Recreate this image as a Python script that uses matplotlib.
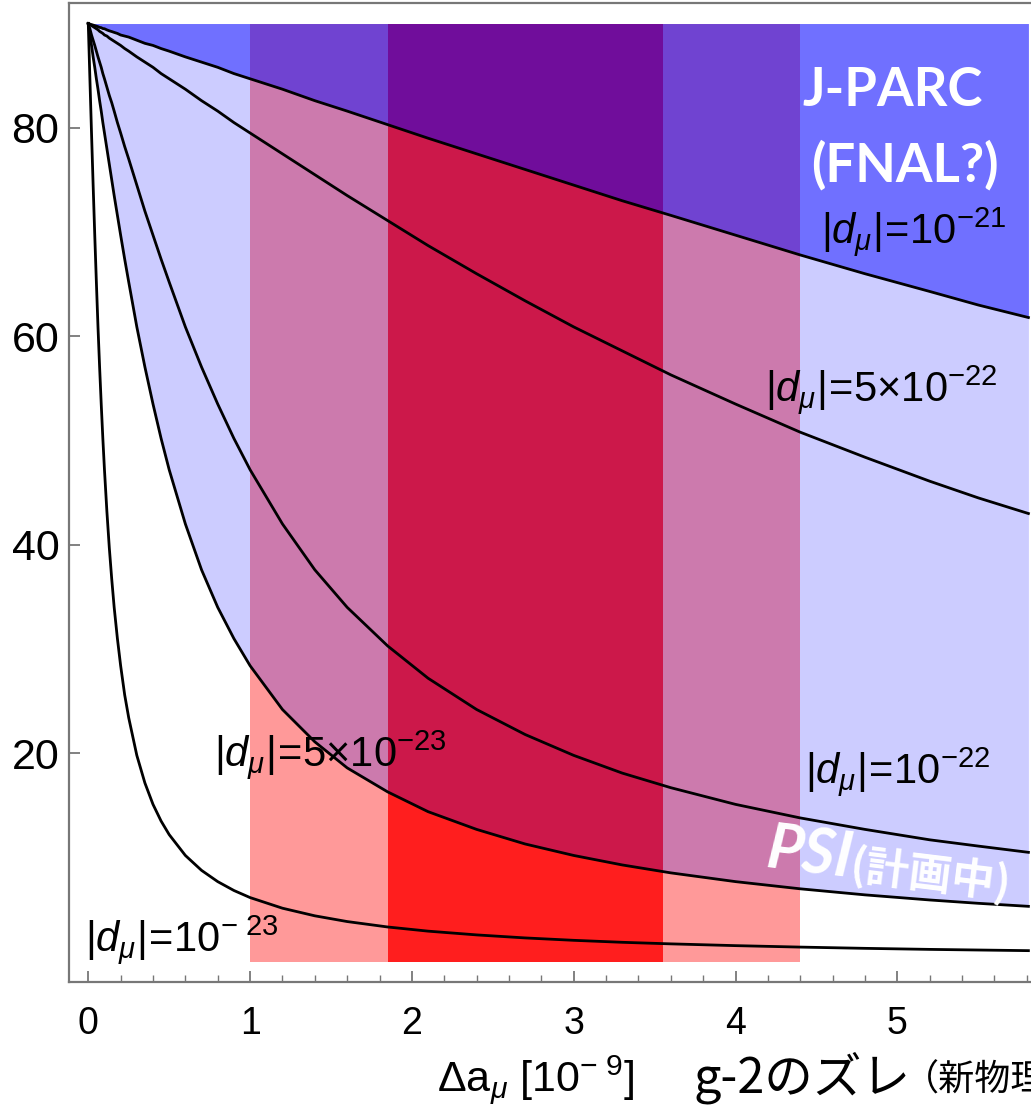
import numpy as np
import matplotlib
matplotlib.use('Agg')
import matplotlib.pyplot as plt
from matplotlib.ticker import MultipleLocator

plt.rcParams['font.family'] = ['Liberation Sans', 'Noto Sans CJK JP']
plt.rcParams['mathtext.fontset'] = 'custom'
plt.rcParams['mathtext.rm'] = 'Liberation Sans'
plt.rcParams['mathtext.it'] = 'Liberation Sans:italic'
plt.rcParams['mathtext.bf'] = 'Liberation Sans:bold'

# Δa_mu [1e-9] の値
da = [0, 0.005, 0.01, 0.015, 0.02, 0.03, 0.04, 0.05, 0.06, 0.07, 0.08, 0.09, 0.1, 0.115,
      0.13, 0.145, 0.16, 0.18, 0.2, 0.225, 0.25, 0.3, 0.35, 0.4, 0.45, 0.5, 0.6, 0.7, 0.8,
      0.9, 1.0, 1.2, 1.4, 1.6, 1.85, 2.1, 2.4, 2.7, 3.0, 3.3, 3.6, 4.0, 4.4, 4.8, 5.2, 5.5, 5.81]

# 各 |d_mu| の角度 [deg]
ang_1e21 = [90, 89.97, 89.95, 89.92, 89.9, 89.85, 89.8, 89.75, 89.7, 89.63, 89.6, 89.52, 89.5, 89.39,
            89.3, 89.23, 89.15, 89.05, 88.9, 88.8, 88.7, 88.4, 88.1, 87.9, 87.6, 87.35, 86.8, 86.3, 85.8,
            85.2, 84.7, 83.7, 82.6, 81.6, 80.3, 79.0, 77.5, 76.0, 74.5, 73.0, 71.6, 69.7, 67.8, 66.0,
            64.3, 63.0, 61.8]
ang_5e22 = [90, 89.95, 89.9, 89.85, 89.8, 89.7, 89.6, 89.5, 89.4, 89.25, 89.15, 89.05, 88.9, 88.8,
            88.6, 88.45, 88.3, 88.1, 87.9, 87.6, 87.35, 86.8, 86.3, 85.8, 85.2, 84.7, 83.7, 82.6, 81.6,
            80.5, 79.5, 77.5, 75.5, 73.5, 71.1, 68.7, 66.0, 63.4, 60.9, 58.6, 56.3, 53.5, 50.8, 48.4,
            46.1, 44.5, 43.0]
ang_1e22 = [90, 89.7, 89.5, 89.2, 88.9, 88.4, 87.9, 87.35, 86.8, 86.3, 85.8, 85.2, 84.7, 83.9,
            83.1, 82.4, 81.6, 80.5, 79.5, 78.2, 77.0, 74.5, 72.0, 69.7, 67.4, 65.2, 60.9, 57.05, 53.5,
            50.2, 47.2, 42.0, 37.6, 34.0, 30.3, 27.2, 24.2, 21.8, 19.8, 18.1, 16.7, 15.1, 13.8, 12.7,
            11.7, 11.1, 10.5]
ang_5e23 = [90, 89.5, 88.9, 88.4, 87.9, 86.8, 85.8, 84.7, 83.7, 82.6, 81.6, 80.5, 79.5, 78.0,
            76.5, 75.0, 73.5, 71.6, 69.7, 67.4, 65.2, 60.9, 57.05, 53.5, 50.2, 47.2, 42.0, 37.6, 34.0,
            31.0, 28.4, 24.2, 21.1, 18.6, 16.3, 14.4, 12.7, 11.3, 10.2, 9.29, 8.53, 7.69, 7.0, 6.42,
            5.93, 5.61, 5.32]
ang_1e23 = [90, 87.35, 84.7, 82.1, 79.5, 74.5, 69.7, 65.2, 60.9, 57.05, 53.5, 50.2, 47.2, 43.2,
            39.7, 36.7, 34.0, 31.0, 28.4, 25.6, 23.4, 19.8, 17.15, 15.1, 13.5, 12.2, 10.2, 8.77, 7.69,
            6.84, 6.16, 5.14, 4.41, 3.86, 3.34, 2.94, 2.58, 2.29, 2.06, 1.87, 1.72, 1.55, 1.41, 1.29,
            1.19, 1.13, 1.07]

# g-2 のズレ (1σ, 2σ)
band_2s = [1.0, 4.4]
band_1s = [1.85, 3.55]

fig = plt.figure(figsize=(10.31, 11.08), dpi=100)
ax = fig.add_axes([0.0669, 0.1137, 0.9331, 0.8836])

# 赤いバンド
ax.fill_between(band_2s, 0, 90, color='red', alpha=0.4, lw=0)
ax.fill_between(band_1s, 0, 90, color='red', alpha=0.8, lw=0)
# 青い領域
ax.fill_between(da, ang_5e23, 90, color='blue', alpha=0.2, lw=0)
ax.fill_between(da, ang_1e21, 90, color='blue', alpha=0.45, lw=0)

for ang in [ang_1e21, ang_5e22, ang_1e22, ang_5e23, ang_1e23]:
    ax.plot(da, ang, color='black', lw=2.0, zorder=5, solid_joinstyle='round')

ax.set_xlim(-0.1193, 5.826)
ax.set_ylim(-1.94, 91.97)

ax.xaxis.set_major_locator(MultipleLocator(1))
ax.xaxis.set_minor_locator(MultipleLocator(0.2))
ax.set_yticks([20, 40, 60, 80])
ax.tick_params(axis='x', which='major', direction='in', length=8, width=1.3,
               color='#777777', labelsize=27, pad=17)
ax.tick_params(axis='x', which='minor', direction='in', length=5, width=1.0, color='#777777')
ax.tick_params(axis='y', which='major', direction='in', length=8, width=1.3,
               color='#777777', labelsize=31, pad=7)
for s in ['left', 'bottom', 'top']:
    ax.spines[s].set_color('#777777')
    ax.spines[s].set_linewidth(1.6)
ax.spines['right'].set_visible(False)

# ラベル
lab = dict(fontsize=30, ha='center', va='center', color='black', zorder=6)
ax.text(5.10, 70.0, r'$|d_{\mu}|\!=\!10^{-21}$', **lab)
ax.text(4.90, 54.8, r'$|d_{\mu}|\!=\!5{\times}10^{-22}$', **lab)
ax.text(5.00, 18.2, r'$|d_{\mu}|\!=\!10^{-22}$', **lab)
ax.text(1.494, 19.8, r'$|d_{\mu}|\!=\!5{\times}10^{-23}$', **lab)
ax.text(0.58, 2.1, r'$|d_{\mu}|\!=\!10^{-\ 23}$', **lab)

ax.text(4.97, 83.6, 'J-PARC', fontsize=38, family='Lato', weight='bold',
        color='white', ha='center', va='center', zorder=6)
ax.text(5.05, 76.4, '(FNAL?)', fontsize=38, family='Lato', weight='bold',
        color='white', ha='center', va='center', zorder=6)

ax.text(4.18, 9.09, 'PSI', fontsize=45, family='Lato', weight='bold', style='italic',
        color='white', ha='left', va='baseline', rotation=-7, rotation_mode='anchor', zorder=6)
ax.text(4.70, 7.9, '(計画中)', fontsize=31, family=['Noto Sans CJK JP'], weight='bold',
        color='white', ha='left', va='baseline', rotation=-7, rotation_mode='anchor', zorder=6)

# x軸ラベル
fig.text(437 / 1031, 1 - 1092 / 1108, r'$\Delta\mathrm{a}_{\mu}$ [10$^{-\ 9}$]',
         fontsize=31, ha='left', va='baseline')
fig.text(693 / 1031, 1 - 1093 / 1108, 'g-2のズレ', fontsize=35,
         family=['Noto Sans CJK JP'], ha='left', va='baseline')
fig.text(903 / 1031, 1 - 1091 / 1108, '（新物理）', fontsize=26,
         family=['Noto Sans CJK JP'], ha='left', va='baseline')

fig.savefig('out.png', dpi=100)
